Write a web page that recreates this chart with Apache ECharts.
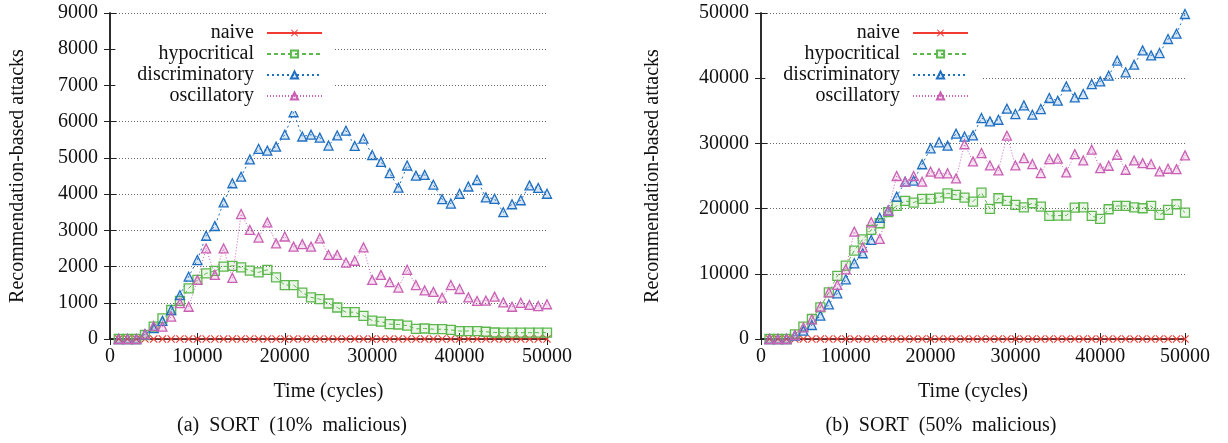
<!DOCTYPE html>
<html>
<head>
<meta charset="utf-8">
<script src="https://cdn.jsdelivr.net/npm/echarts@6/dist/echarts.min.js"></script>
<style>
  html, body { margin: 0; padding: 0; background: #fff; }
</style>
</head>
<body>
<div id="chart" style="width: 1228px; height: 443px;"></div>
<script>
// time axis (cycles), one sample every 1000 cycles
var times = [1000, 2000, 3000, 4000, 5000, 6000, 7000, 8000, 9000, 10000,
  11000, 12000, 13000, 14000, 15000, 16000, 17000, 18000, 19000, 20000,
  21000, 22000, 23000, 24000, 25000, 26000, 27000, 28000, 29000, 30000,
  31000, 32000, 33000, 34000, 35000, 36000, 37000, 38000, 39000, 40000,
  41000, 42000, 43000, 44000, 45000, 46000, 47000, 48000, 49000, 50000]

var seriesNames = ['naive', 'hypocritical', 'discriminatory', 'oscillatory']

// (a) SORT, 10% malicious
var naiveA = [0, 0, 0, 0, 0, 0, 0, 0, 0, 0, 0, 0, 0, 0, 0, 0, 0, 0, 0, 0,
  0, 0, 0, 0, 0, 0, 0, 0, 0, 0, 0, 0, 0, 0, 0, 0, 0, 0, 0, 0,
  0, 0, 0, 0, 0, 0, 0, 0, 0, 0]
var hypoA = [0, 0, 0, 110, 340, 570, 800, 1050, 1400, 1630,
  1810, 1880, 2000, 2020, 1980, 1890, 1840, 1910, 1700, 1490,
  1490, 1280, 1150, 1100, 980, 870, 740, 740, 640, 510,
  480, 410, 400, 370, 280, 290, 270, 270, 250, 220,
  220, 220, 200, 180, 175, 175, 175, 175, 175, 175]
var discA = [0, 0, 0, 130, 300, 500, 800, 1210, 1720, 2180,
  2850, 3120, 3770, 4300, 4480, 4960, 5250, 5200, 5310, 5640,
  6260, 5590, 5640, 5560, 5340, 5620, 5750, 5330, 5530, 5080,
  4890, 4580, 4180, 4790, 4510, 4530, 4260, 3860, 3740, 4010,
  4210, 4390, 3910, 3870, 3500, 3720, 3830, 4240, 4170, 4010]
var oscA = [0, 0, 0, 130, 360, 340, 620, 990, 890, 1630,
  2500, 1770, 2500, 1690, 3450, 3010, 2800, 3220, 2640, 2830,
  2550, 2620, 2550, 2780, 2320, 2320, 2110, 2160, 2530, 1630,
  1770, 1570, 1420, 1910, 1490, 1340, 1300, 1140, 1490, 1380,
  1150, 1050, 1060, 1170, 1010, 890, 1000, 940, 910, 960]

// (b) SORT, 50% malicious
var naiveB = [0, 0, 0, 0, 0, 0, 0, 0, 0, 0, 0, 0, 0, 0, 0, 0, 0, 0, 0, 0,
  0, 0, 0, 0, 0, 0, 0, 0, 0, 0, 0, 0, 0, 0, 0, 0, 0, 0, 0, 0,
  0, 0, 0, 0, 0, 0, 0, 0, 0, 0]
var hypoB = [0, 0, 0, 720, 1890, 3070, 4860, 7160, 9670, 11250,
  13550, 15290, 16730, 17750, 19450, 20410, 21170, 20920, 21480, 21480,
  21680, 22350, 22090, 21680, 21070, 22460, 19950, 21590, 21180, 20560,
  20200, 20820, 20310, 18870, 18930, 18930, 20150, 20200, 18870, 18410,
  19900, 20410, 20410, 20200, 20050, 20410, 19030, 19800, 20670, 19390]
var discB = [0, 0, 0, 510, 1280, 2150, 3580, 5320, 7010, 9160,
  11610, 13150, 15190, 18600, 19700, 21840, 24130, 24280, 26800, 29250,
  30170, 29660, 31500, 31050, 31230, 33890, 33380, 33630, 35320, 34500,
  35830, 34400, 35270, 36960, 36550, 38750, 37060, 37570, 39100, 39510,
  40380, 42690, 40900, 42070, 44270, 43500, 43860, 46010, 46830, 49850]
var oscB = [0, 0, 0, 610, 1790, 3020, 4960, 7160, 8290, 10690,
  16470, 14070, 17900, 15350, 19700, 25000, 24130, 25000, 24130, 25660,
  25410, 25410, 24640, 29870, 27240, 28520, 26620, 25860, 31180, 26620,
  27750, 26830, 25450, 27600, 27650, 25550, 28360, 27390, 29030, 26210,
  26570, 28260, 25960, 27390, 26980, 26830, 25700, 26110, 26060, 28160]

var yMaxA = 9000
var yMaxB = 50000

var font = '"Liberation Serif", "Times New Roman", serif'
var axisColor = '#222'

function pairs (vals) {
  return times.map(function (t, i) { return [t, vals[i]] })
}

function plain (v) {
  return String(v)
}

// one look per strategy
var looks = {
  naive: {
    symbol: 'path://M0,1L1,0L5,4L9,0L10,1L6,5L10,9L9,10L5,6L1,10L0,9L4,5Z',
    symbolSize: 8,
    itemStyle: { color: '#f03a32' },
    lineStyle: { color: '#f03a32', width: 1, type: 'solid' }
  },
  hypocritical: {
    symbol: 'rect',
    symbolSize: 9,
    itemStyle: { color: 'rgba(92,184,76,0.12)', borderColor: '#5cb84c', borderWidth: 1.3 },
    lineStyle: { color: '#5cb84c', width: 1, type: [4, 3] }
  },
  discriminatory: {
    symbol: 'triangle',
    symbolSize: 9,
    itemStyle: { color: 'rgba(31,111,193,0.18)', borderColor: '#1f6fc1', borderWidth: 1.3 },
    lineStyle: { color: '#1f6fc1', width: 1, type: [2, 3] }
  },
  oscillatory: {
    symbol: 'triangle',
    symbolSize: 9,
    itemStyle: { color: 'rgba(204,96,180,0.18)', borderColor: '#c960b4', borderWidth: 1.3 },
    lineStyle: { color: '#c960b4', width: 1, type: [1, 2] }
  }
}

function makeSeries (name, vals, idx) {
  var l = looks[name]
  return {
    name: name,
    type: 'line',
    xAxisIndex: idx,
    yAxisIndex: idx,
    data: pairs(vals),
    symbol: l.symbol,
    symbolSize: l.symbolSize,
    showAllSymbol: true,
    itemStyle: l.itemStyle,
    lineStyle: l.lineStyle,
    emphasis: { disabled: true },
    animation: false
  }
}

function bottomX (gridIndex) {
  return {
    type: 'value',
    gridIndex: gridIndex,
    min: 0,
    max: 50000,
    interval: 10000,
    name: 'Time (cycles)',
    nameLocation: 'middle',
    nameGap: 43,
    nameTextStyle: { fontFamily: font, fontSize: 20, color: '#111' },
    axisLine: { lineStyle: { color: axisColor, width: 1.6 } },
    axisTick: { inside: true, length: 6, lineStyle: { color: axisColor } },
    axisLabel: { fontFamily: font, fontSize: 20, color: '#111', margin: 8, formatter: plain },
    splitLine: { show: false }
  }
}

function topX (gridIndex) {
  return {
    type: 'value',
    gridIndex: gridIndex,
    position: 'top',
    min: 0,
    max: 50000,
    interval: 10000,
    axisLine: { lineStyle: { color: axisColor, width: 1.5 } },
    axisTick: { inside: true, length: 6, lineStyle: { color: axisColor } },
    axisLabel: { show: false },
    splitLine: { show: false }
  }
}

function leftY (gridIndex, max, interval, gap) {
  return {
    type: 'value',
    gridIndex: gridIndex,
    min: 0,
    max: max,
    interval: interval,
    name: 'Recommendation-based attacks',
    nameLocation: 'middle',
    nameGap: gap,
    nameTextStyle: { fontFamily: font, fontSize: 20, color: '#111' },
    axisLine: { show: true, lineStyle: { color: axisColor, width: 1.6 } },
    axisTick: { show: true, inside: true, length: 6, lineStyle: { color: axisColor } },
    axisLabel: { fontFamily: font, fontSize: 20, color: '#111', margin: 12, formatter: plain },
    splitLine: { show: true, lineStyle: { color: '#666', width: 1, type: [1, 2] } }
  }
}

function rightY (gridIndex, max, interval) {
  return {
    type: 'value',
    gridIndex: gridIndex,
    position: 'right',
    min: 0,
    max: max,
    interval: interval,
    axisLine: { show: true, lineStyle: { color: axisColor, width: 1.5 } },
    axisTick: { show: true, inside: true, length: 6, lineStyle: { color: axisColor } },
    axisLabel: { show: false },
    splitLine: { show: false }
  }
}

function makeLegend (right, padLeft) {
  return {
    data: seriesNames,
    orient: 'vertical',
    align: 'right',
    right: right,
    top: 15,
    itemWidth: 55,
    itemHeight: 9,
    itemGap: 1,
    padding: [8, 12, 5, padLeft],
    backgroundColor: '#fff',
    selectedMode: false,
    textStyle: { fontFamily: font, fontSize: 20, color: '#111', lineHeight: 20, padding: [0, 8, 0, 0] }
  }
}

var myChart = echarts.init(document.getElementById('chart'), null, { renderer: 'canvas' })

myChart.setOption({
  animation: false,
  backgroundColor: '#fff',
  title: [
    {
      text: '(a)  SORT  (10%  malicious)',
      left: 287,
      top: 411,
      textAlign: 'center',
      textStyle: { fontFamily: font, fontSize: 20, fontWeight: 'normal', color: '#111' }
    },
    {
      text: '(b)  SORT  (50%  malicious)',
      left: 936,
      top: 411,
      textAlign: 'center',
      textStyle: { fontFamily: font, fontSize: 20, fontWeight: 'normal', color: '#111' }
    }
  ],
  legend: [makeLegend(893, 22), makeLegend(247, 18)],
  grid: [
    { left: 110, right: 681, top: 13, bottom: 104 },
    { left: 761, right: 43, top: 13, bottom: 104 }
  ],
  xAxis: [bottomX(0), bottomX(1), topX(0), topX(1)],
  yAxis: [
    leftY(0, yMaxA, 1000, 82),
    leftY(1, yMaxB, 10000, 98),
    rightY(0, yMaxA, 1000),
    rightY(1, yMaxB, 10000)
  ],
  series: [
    makeSeries('naive', naiveA, 0),
    makeSeries('hypocritical', hypoA, 0),
    makeSeries('discriminatory', discA, 0),
    makeSeries('oscillatory', oscA, 0),
    makeSeries('naive', naiveB, 1),
    makeSeries('hypocritical', hypoB, 1),
    makeSeries('discriminatory', discB, 1),
    makeSeries('oscillatory', oscB, 1)
  ]
})
</script>
</body>
</html>
